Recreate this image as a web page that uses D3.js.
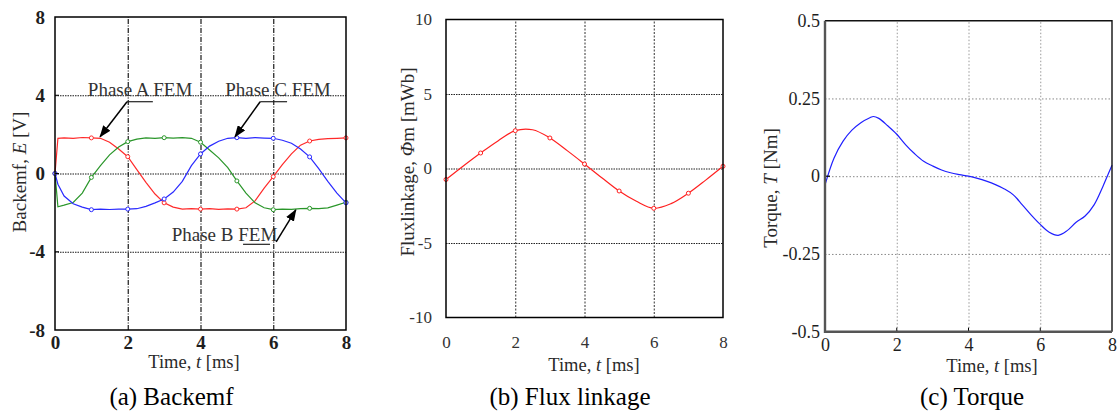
<!DOCTYPE html>
<html>
<head>
<meta charset="utf-8">
<script src="https://cdn.jsdelivr.net/npm/d3@7"></script>
<style>
  body { margin: 0; background: #fff; }
  svg text { font-family: "Liberation Serif", "Times New Roman", serif; }
</style>
</head>
<body>
<svg id="fig" width="1120" height="412"></svg>
<script>
const SERIF = "'Liberation Serif', 'Times New Roman', serif";

// ---- tick values ----
const timeTicks = [0, 2, 4, 6, 8];
const timeGrid = [2, 4, 6];
const backemfTicks = [-8, -4, 0, 4, 8];
const backemfGrid = [-4, 0, 4];
const fluxTicks = [-10, -5, 0, 5, 10];
const fluxGrid = [-5, 0, 5];
const torqueTicks = [-0.5, -0.25, 0, 0.25, 0.5];
const torqueGrid = [-0.25, 0, 0.25];

// ---- (a) back-EMF, three phases [V] vs time [ms] ----
const backemfTime = [0, 0.08, 0.25, 0.5, 0.75, 1, 1.25, 1.5, 1.75, 2, 2.25, 2.5, 2.75, 3, 3.25, 3.5, 3.75,
  4, 4.25, 4.5, 4.75, 5, 5.25, 5.5, 5.75, 6, 6.25, 6.5, 6.75, 7, 7.25, 7.5, 7.75, 8];
const phaseA = [0, 1.80, 1.82, 1.80, 1.84, 1.82, 1.80, 1.60, 1.25, 0.86, 0.20, -0.45, -1.05, -1.50, -1.72, -1.82, -1.80,
  -1.82, -1.80, -1.83, -1.81, -1.82, -1.75, -1.40, -0.75, -0.16, 0.45, 1.00, 1.45, 1.66, 1.74, 1.78, 1.80, 1.82];
const phaseB = [0, -1.70, -1.62, -1.48, -1.00, -0.20, 0.40, 0.95, 1.35, 1.63, 1.76, 1.82, 1.80, 1.83, 1.81, 1.83, 1.80,
  1.60, 1.20, 0.80, 0.30, -0.38, -1.00, -1.50, -1.75, -1.85, -1.82, -1.83, -1.80, -1.78, -1.80, -1.76, -1.62, -1.47];
const phaseC = [0, -0.55, -1.15, -1.55, -1.72, -1.85, -1.82, -1.84, -1.82, -1.82, -1.80, -1.68, -1.50, -1.30, -0.95, -0.40, 0.40,
  1.00, 1.40, 1.65, 1.80, 1.83, 1.80, 1.83, 1.81, 1.80, 1.70, 1.55, 1.25, 0.85, 0.25, -0.40, -1.00, -1.50];

// ---- (b) flux linkage [mWb] ----
const fluxTime = [0, 0.5, 1, 1.5, 2, 2.5, 3, 3.5, 4, 4.5, 5, 5.5, 6, 6.5, 7, 7.5, 8];
const fluxValue = [-0.74, 0.17, 1.04, 1.85, 2.54, 2.60, 2.05, 1.20, 0.30, -0.62, -1.51, -2.20, -2.67, -2.36, -1.66, -0.78, 0.15];

// ---- (c) torque [Nm] ----
const torqueTime = [0, 0.25, 0.5, 0.75, 1, 1.25, 1.35, 1.5, 1.75, 2, 2.25, 2.5, 2.75, 3, 3.25, 3.5, 3.75,
  4, 4.25, 4.5, 4.75, 5, 5.25, 5.5, 5.75, 6, 6.25, 6.5, 6.75, 7, 7.25, 7.5, 7.75, 8];
const torqueValue = [-0.028, 0.058, 0.112, 0.148, 0.172, 0.188, 0.192, 0.186, 0.162, 0.135, 0.101, 0.072, 0.048, 0.033, 0.020, 0.011, 0.005,
  0.000, -0.007, -0.016, -0.027, -0.041, -0.060, -0.092, -0.125, -0.155, -0.180, -0.190, -0.175, -0.148, -0.128, -0.092, -0.032, 0.035];

// ---- annotations of panel (a), in data units ----
const phaseLabels = ["Phase A FEM", "Phase B FEM", "Phase C FEM"];
const labelAt = [[2.34, 4.27], [4.66, -3.14], [6.13, 4.27]];
const leaderFrom = [[1.98, 3.67], [5.17, -3.62], [5.64, 3.67]];
const leaderTo = [[2.69, 3.67], [5.91, -3.62], [6.38, 3.67]];
const arrowTail = [[1.98, 3.67], [6.08, -3.50], [5.64, 3.67]];
const arrowTip = [[1.24, 1.88], [6.62, -1.86], [4.95, 1.88]];

const svg = d3.select("#fig").attr("font-family", SERIF);
svg.append("rect").attr("width", 1120).attr("height", 412).attr("fill", "#fff");

svg.append("defs").append("marker")
  .attr("id", "arrowhead").attr("markerUnits", "userSpaceOnUse")
  .attr("viewBox", "0 0 12 9").attr("markerWidth", 12).attr("markerHeight", 9)
  .attr("refX", 11).attr("refY", 4.5).attr("orient", "auto")
  .append("path").attr("d", "M0,0 L12,4.5 L0,9 Z").attr("fill", "#000");

const fmt = d => (d < 0 ? "-" + Math.abs(d) : String(d));

function styleAxis(sel, o) {
  sel.select(".domain").remove();
  sel.attr("font-family", SERIF).attr("font-size", o.tickSize).attr("font-weight", o.tickWeight);
  sel.selectAll("text").attr("fill", o.tickColor).attr("font-family", SERIF);
}

function makePanel(o) {
  const x = d3.scaleLinear().domain([0, 8]).range([o.left, o.right]);
  const y = d3.scaleLinear().domain(o.yDomain).range([o.bottom, o.top]);
  const g = svg.append("g");
  const h = o.bottom - o.top, w = o.right - o.left;

  // grid
  const gx = g.append("g").attr("transform", `translate(0,${o.bottom})`)
    .call(d3.axisBottom(x).tickValues(timeGrid).tickSize(-h).tickFormat(""));
  gx.select(".domain").remove();
  gx.selectAll("line").attr("stroke", o.vGrid.color).attr("stroke-width", o.vGrid.width)
    .attr("stroke-dasharray", o.vGrid.dash);
  const gy = g.append("g").attr("transform", `translate(${o.left},0)`)
    .call(d3.axisLeft(y).tickValues(o.yGrid).tickSize(-w).tickFormat(""));
  gy.select(".domain").remove();
  gy.selectAll("line").attr("stroke", o.hGrid.color).attr("stroke-width", o.hGrid.width)
    .attr("stroke-dasharray", o.hGrid.dash);

  // tick labels
  const ax = g.append("g").attr("transform", `translate(0,${o.bottom})`)
    .call(d3.axisBottom(x).tickValues(timeTicks).tickSize(0).tickPadding(o.xPad).tickFormat(fmt));
  styleAxis(ax, o);
  const ay = g.append("g").attr("transform", `translate(${o.left},0)`)
    .call(d3.axisLeft(y).tickValues(o.yTicks).tickSize(0).tickPadding(o.yPad).tickFormat(fmt));
  styleAxis(ay, o);

  // axis titles
  const xt = g.append("text").attr("x", o.xTitle[0]).attr("y", o.xTitle[1])
    .attr("text-anchor", "middle").attr("font-size", 18.5).attr("fill", "#2a2a2a");
  xt.append("tspan").text("Time, ");
  xt.append("tspan").attr("font-style", "italic").text("t");
  xt.append("tspan").text(" [ms]");

  const yt = g.append("text").attr("transform", `translate(${o.yTitle[0]},${o.yTitle[1]}) rotate(-90)`)
    .attr("text-anchor", "middle").attr("font-size", 19).attr("fill", "#2a2a2a");
  o.yTitleParts.forEach(p => {
    const t = yt.append("tspan").text(p[0]);
    if (p[1]) t.attr("font-style", "italic");
  });

  // caption
  g.append("text").attr("x", o.caption[0]).attr("y", 405).attr("text-anchor", "middle")
    .attr("font-size", 25).attr("fill", "#000").text(o.captionText);

  const plot = g.append("g");
  return { x, y, g, plot, o };
}

function frame(p, style) {
  const { o } = p;
  const f = p.g.append("g").attr("fill", "none");
  if (style === "box") {
    f.append("rect").attr("x", o.left).attr("y", o.top)
      .attr("width", o.right - o.left).attr("height", o.bottom - o.top)
      .attr("stroke", "#000").attr("stroke-width", 1.5);
  } else {
    f.append("path").attr("d", `M${o.left},${o.top}H${o.right}V${o.bottom}`)
      .attr("stroke", "#111").attr("stroke-width", 1.4);
    f.append("path").attr("d", `M${o.left},${o.top}V${o.bottom}H${o.right}`)
      .attr("stroke", "#555").attr("stroke-width", 2.4);
  }
}

// ================= (a) Backemf =================
const pa = makePanel({
  left: 55, right: 346, top: 17, bottom: 330, yDomain: [-8, 8],
  yTicks: backemfTicks, yGrid: backemfGrid,
  vGrid: { color: "#1a1a1a", width: 1.2, dash: "5,1.5,1,1.5" },
  hGrid: { color: "#1a1a1a", width: 1, dash: "1.5,1" },
  xPad: 6, yPad: 10, tickSize: 19, tickWeight: "bold", tickColor: "#1e1e1e",
  xTitle: [194, 368], yTitle: [26, 172],
  yTitleParts: [["Backemf, "], ["E", true], [" [V]"]],
  caption: [171.5], captionText: "(a) Backemf"
});
// inward ticks on the left axis
pa.g.append("g").selectAll("line").data(backemfGrid).join("line")
  .attr("x1", pa.x(0)).attr("x2", pa.x(0) + 4)
  .attr("y1", d => pa.y(d)).attr("y2", d => pa.y(d)).attr("stroke", "#000");

const phases = [
  { values: phaseA, color: "#ff2a2a" },
  { values: phaseB, color: "#2a962a" },
  { values: phaseC, color: "#2a2aff" }
];
const lineA = d3.line().x(d => pa.x(d[0])).y(d => pa.y(d[1]));
phases.forEach(s => {
  const pts = backemfTime.map((t, i) => [t, s.values[i]]);
  pa.plot.append("path").datum(pts).attr("d", lineA)
    .attr("fill", "none").attr("stroke", s.color).attr("stroke-width", 1.2);
  pa.plot.append("g").selectAll("circle").data(pts.filter(d => Number.isInteger(d[0]))).join("circle")
    .attr("cx", d => pa.x(d[0])).attr("cy", d => pa.y(d[1])).attr("r", 2)
    .attr("fill", "#fff").attr("stroke", s.color).attr("stroke-width", 1);
});

// phase labels with leaders and arrows
phaseLabels.forEach((label, i) => {
  pa.plot.append("text").attr("x", pa.x(labelAt[i][0])).attr("y", pa.y(labelAt[i][1]) + 6)
    .attr("text-anchor", "middle").attr("font-size", 19).attr("fill", "#333").text(label);
  pa.plot.append("line")
    .attr("x1", pa.x(leaderFrom[i][0])).attr("y1", pa.y(leaderFrom[i][1]))
    .attr("x2", pa.x(leaderTo[i][0])).attr("y2", pa.y(leaderTo[i][1]))
    .attr("stroke", "#222").attr("stroke-width", 1.2);
  pa.plot.append("line")
    .attr("x1", pa.x(arrowTail[i][0])).attr("y1", pa.y(arrowTail[i][1]))
    .attr("x2", pa.x(arrowTip[i][0])).attr("y2", pa.y(arrowTip[i][1]))
    .attr("stroke", "#000").attr("stroke-width", 1.5).attr("marker-end", "url(#arrowhead)");
});
frame(pa, "box");

// ================= (b) Flux linkage =================
const pb = makePanel({
  left: 446, right: 723, top: 19.5, bottom: 317.5, yDomain: [-10, 10],
  yTicks: fluxTicks, yGrid: fluxGrid,
  vGrid: { color: "#333", width: 1, dash: "2,1.5" },
  hGrid: { color: "#222", width: 1, dash: "1.5,1" },
  xPad: 18, yPad: 14, tickSize: 17, tickWeight: "normal", tickColor: "#333",
  xTitle: [594, 371], yTitle: [413.5, 162],
  yTitleParts: [["Fluxlinkage, "], ["Φ", true], ["m [mWb]"]],
  caption: [570], captionText: "(b) Flux linkage"
});
const fluxPts = fluxTime.map((t, i) => [t, fluxValue[i]]);
pb.plot.append("path").datum(fluxPts)
  .attr("d", d3.line().curve(d3.curveCatmullRom).x(d => pb.x(d[0])).y(d => pb.y(d[1])))
  .attr("fill", "none").attr("stroke", "#ff2020").attr("stroke-width", 1.2);
pb.plot.append("g").selectAll("circle").data(fluxPts.filter(d => Number.isInteger(d[0]))).join("circle")
  .attr("cx", d => pb.x(d[0])).attr("cy", d => pb.y(d[1])).attr("r", 2)
  .attr("fill", "#fff").attr("stroke", "#ff2020").attr("stroke-width", 1);
frame(pb, "box");

// ================= (c) Torque =================
const pc = makePanel({
  left: 825, right: 1112, top: 20.7, bottom: 331.7, yDomain: [-0.5, 0.5],
  yTicks: torqueTicks, yGrid: torqueGrid,
  vGrid: { color: "#999", width: 1, dash: "1.5,2" },
  hGrid: { color: "#888", width: 1, dash: "1.5,2" },
  xPad: 7, yPad: 5, tickSize: 18, tickWeight: "normal", tickColor: "#1e1e1e",
  xTitle: [992, 372], yTitle: [777, 188],
  yTitleParts: [["Torque, "], ["T", true], [" [Nm]"]],
  caption: [972], captionText: "(c) Torque"
});
pc.g.append("g").selectAll("line").data(timeGrid).join("line")
  .attr("x1", d => pc.x(d)).attr("x2", d => pc.x(d))
  .attr("y1", pc.y(-0.5)).attr("y2", pc.y(-0.5) - 4).attr("stroke", "#000");
pc.g.append("line").attr("x1", pc.x(0)).attr("x2", pc.x(0) + 5)
  .attr("y1", pc.y(0)).attr("y2", pc.y(0)).attr("stroke", "#000").attr("stroke-width", 1.2);
const torquePts = torqueTime.map((t, i) => [t, torqueValue[i]]);
pc.plot.append("path").datum(torquePts)
  .attr("d", d3.line().curve(d3.curveCatmullRom).x(d => pc.x(d[0])).y(d => pc.y(d[1])))
  .attr("fill", "none").attr("stroke", "#1f1fff").attr("stroke-width", 1.2);
frame(pc, "open");
</script>
</body>
</html>
